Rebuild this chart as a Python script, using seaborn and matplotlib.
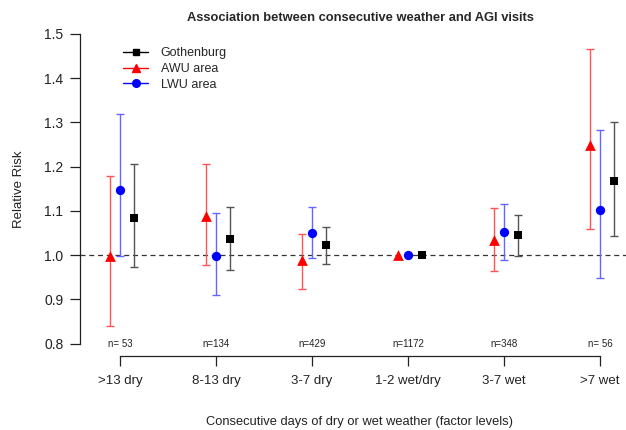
import numpy as np
import pandas as pd
import matplotlib
matplotlib.use("Agg")
import matplotlib.pyplot as plt
from matplotlib.lines import Line2D
import seaborn as sns

categories = [">13 dry", "8-13 dry", "3-7 dry", "1-2 wet/dry", "3-7 wet", ">7 wet"]
n_labels = ["n= 53", "n=134", "n=429", "n=1172", "n=348", "n= 56"]

goth_rr = [1.085, 1.037, 1.024, 1.000, 1.045, 1.167]
goth_lo = [0.974, 0.966, 0.981, 1.000, 0.998, 1.044]
goth_hi = [1.206, 1.109, 1.063, 1.000, 1.090, 1.301]

awu_rr = [0.998, 1.088, 0.988, 1.000, 1.034, 1.248]
awu_lo = [0.839, 0.978, 0.923, 1.000, 0.964, 1.060]
awu_hi = [1.180, 1.205, 1.048, 1.000, 1.106, 1.465]

lwu_rr = [1.148, 0.998, 1.050, 1.000, 1.052, 1.103]
lwu_lo = [0.999, 0.909, 0.994, 1.000, 0.988, 0.948]
lwu_hi = [1.319, 1.096, 1.109, 1.000, 1.115, 1.284]

series_names = ["Gothenburg", "AWU area", "LWU area"]

sns.set_style("ticks")
plt.rcParams["font.family"] = ["Liberation Sans", "DejaVu Sans"]

rows = []
for name, rr, lo, hi in zip(series_names,
                            [goth_rr, awu_rr, lwu_rr],
                            [goth_lo, awu_lo, lwu_lo],
                            [goth_hi, awu_hi, lwu_hi]):
    for i, c in enumerate(categories):
        rows.append(dict(series=name, cat=c, idx=i + 1, rr=rr[i], lo=lo[i], hi=hi[i]))
df = pd.DataFrame(rows)

offsets = {"Gothenburg": 14 / 96, "AWU area": -10 / 96, "LWU area": 0.0}
colors = {"Gothenburg": "#000000", "AWU area": "#ff0000", "LWU area": "#0000ff"}
bar_colors = {"Gothenburg": "#555555", "AWU area": "#ff5555", "LWU area": "#6666ff"}
markers = {"Gothenburg": "s", "AWU area": "^", "LWU area": "o"}
msizes = {"Gothenburg": 40, "AWU area": 60, "LWU area": 45}
df["xpos"] = df["idx"] + df["series"].map(offsets)

fig = plt.figure(figsize=(6.26, 4.30), dpi=100)
ax = fig.add_axes([80 / 626, (430 - 356) / 430, 546 / 626, (356 - 21.6) / 430])

ax.axhline(1.0, color="#333333", lw=0.9, ls=(0, (4, 3)), zorder=1)

# error bars
for name in series_names:
    sub = df[df["series"] == name]
    has = sub[sub["hi"] > sub["lo"]]
    ax.errorbar(has["xpos"], has["rr"],
                yerr=[has["rr"] - has["lo"], has["hi"] - has["rr"]],
                fmt="none", ecolor=bar_colors[name], elinewidth=1.0,
                capsize=3.0, capthick=1.0, zorder=2)

for name in series_names:
    sub = df[df["series"] == name]
    sns.scatterplot(data=sub, x="xpos", y="rr", ax=ax, color=colors[name],
                    marker=markers[name], s=msizes[name], linewidth=0, zorder=3,
                    legend=False)

for i, lab in enumerate(n_labels):
    ax.text(i + 1, 0.8, lab, ha="center", va="center", fontsize=7, color="#222222")

ax.set_xlim(1 - 40 / 96, 6 + 26 / 96)
ax.set_ylim(0.8 - 0.7 * 0.04, 1.5 + 0.7 * 0.04)
ax.set_xticks(range(1, 7))
ax.set_xticklabels(categories)
ax.set_yticks([0.8, 0.9, 1.0, 1.1, 1.2, 1.3, 1.4, 1.5])
ax.set_yticklabels(["0.8", "0.9", "1.0", "1.1", "1.2", "1.3", "1.4", "1.5"])
ax.tick_params(axis="both", length=7, width=0.9, colors="#222222")
ax.tick_params(axis="y", labelsize=10, pad=5)
ax.tick_params(axis="x", labelsize=9.5, pad=7)
for s in ["top", "right"]:
    ax.spines[s].set_visible(False)
ax.spines["left"].set_bounds(0.8, 1.5)
ax.spines["bottom"].set_bounds(1, 6)
for s in ["left", "bottom"]:
    ax.spines[s].set_linewidth(0.9)
    ax.spines[s].set_color("#222222")
ax.set_xlabel("")
ax.set_ylabel("")

fig.text(360 / 626, 1 - 18 / 430, "Association between consecutive weather and AGI visits",
         ha="center", va="center", fontsize=9.3, fontweight="bold")
fig.text(19 / 626, 1 - 189 / 430, "Relative Risk", rotation=90, ha="center", va="center",
         fontsize=9.5, color="#222222")
fig.text(360 / 626, 1 - 422 / 430, "Consecutive days of dry or wet weather (factor levels)",
         ha="center", va="center", fontsize=9.3, color="#222222")

handles = [Line2D([0], [0], color=colors[n], lw=1, marker=markers[n],
                  markersize={"Gothenburg": 5, "AWU area": 6, "LWU area": 5.5}[n])
           for n in series_names]
ax.legend(handles, series_names, loc="upper left", bbox_to_anchor=(0.079, 0.923),
          frameon=False, fontsize=9, handlelength=2.0, handletextpad=1.0,
          labelspacing=0.3, borderpad=0, borderaxespad=0)

fig.savefig("out.png", dpi=100)
